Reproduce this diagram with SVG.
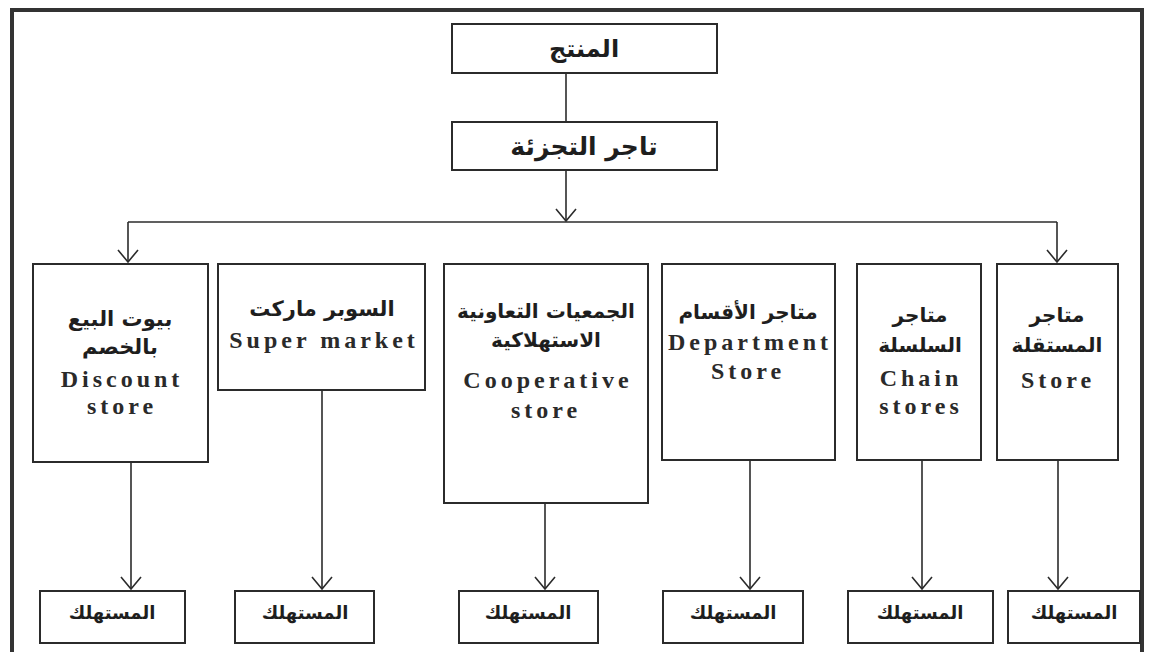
<svg xmlns="http://www.w3.org/2000/svg" width="1149" height="652" viewBox="0 0 1149 652">
  <style>
    .box { fill: #ffffff; stroke: #2b2b2b; stroke-width: 2; }
    .wire { fill: none; stroke: #2b2b2b; stroke-width: 1.6; }
    .ar { font-family: "DejaVu Sans", "Noto Sans", sans-serif; font-weight: bold; fill: #1e1e1e; text-anchor: middle; direction: rtl; }
    .en { font-family: "Liberation Serif", "Times New Roman", serif; font-weight: bold; fill: #2a2a2a; text-anchor: middle; font-size: 24px; letter-spacing: 4px; }
  </style>
  <defs>
    <!-- open V arrowhead, drawn along +x so orient="auto" turns it with the line -->
    <marker id="vee" viewBox="0 0 14 24" refX="13" refY="12" markerWidth="14" markerHeight="24" markerUnits="userSpaceOnUse" orient="auto">
      <path d="M1,2 L13,12 L1,22" fill="none" stroke="#2b2b2b" stroke-width="1.6"/>
    </marker>
  </defs>

  <rect x="0" y="0" width="1149" height="652" fill="#ffffff"/>
  <!-- outer frame -->
  <path d="M12,662 V10 H1142 V662" fill="none" stroke="#333" stroke-width="4"/>

  <g id="connectors">
    <line class="wire" x1="566" y1="73" x2="566" y2="122"/>
    <path class="wire" d="M566,171 V221" marker-end="url(#vee)"/>
    <line class="wire" x1="128" y1="222" x2="1057" y2="222"/>
    <path class="wire" d="M128,222 V262" marker-end="url(#vee)"/>
    <path class="wire" d="M1057,222 V262" marker-end="url(#vee)"/>
    <path class="wire" d="M131,462 V589" marker-end="url(#vee)"/>
    <path class="wire" d="M322,390 V589" marker-end="url(#vee)"/>
    <path class="wire" d="M545,503 V589" marker-end="url(#vee)"/>
    <path class="wire" d="M750,460 V589" marker-end="url(#vee)"/>
    <path class="wire" d="M922,460 V589" marker-end="url(#vee)"/>
    <path class="wire" d="M1058,460 V589" marker-end="url(#vee)"/>
  </g>

  <g id="producer">
    <rect class="box" x="452" y="24" width="265" height="49"/>
    <text class="ar" x="584" y="57" font-size="24">المنتج</text>
  </g>

  <g id="retailer">
    <rect class="box" x="452" y="122" width="265" height="48"/>
    <text class="ar" x="584" y="155" font-size="25">تاجر التجزئة</text>
  </g>

  <g id="discount-store">
    <rect class="box" x="33" y="264" width="175" height="198"/>
    <text class="ar" x="120" y="326" font-size="21">بيوت البيع</text>
    <text class="ar" x="120" y="354" font-size="21">بالخصم</text>
    <text class="en" x="122" y="387">Discount</text>
    <text class="en" x="122" y="414">store</text>
  </g>

  <g id="super-market">
    <rect class="box" x="218" y="264" width="207" height="126"/>
    <text class="ar" x="322" y="316" font-size="21">السوبر ماركت</text>
    <text class="en" x="324" y="348">Super market</text>
  </g>

  <g id="cooperative-store">
    <rect class="box" x="444" y="264" width="204" height="239"/>
    <text class="ar" x="546" y="318" font-size="20">الجمعيات التعاونية</text>
    <text class="ar" x="546" y="347" font-size="20">الاستهلاكية</text>
    <text class="en" x="548" y="388">Cooperative</text>
    <text class="en" x="546" y="418">store</text>
  </g>

  <g id="department-store">
    <rect class="box" x="662" y="264" width="173" height="196"/>
    <text class="ar" x="748" y="319" font-size="20">متاجر الأقسام</text>
    <text class="en" x="750" y="350">Department</text>
    <text class="en" x="748" y="379">Store</text>
  </g>

  <g id="chain-stores">
    <rect class="box" x="857" y="264" width="124" height="196"/>
    <text class="ar" x="920" y="322" font-size="20">متاجر</text>
    <text class="ar" x="920" y="352" font-size="20">السلسلة</text>
    <text class="en" x="921" y="386">Chain</text>
    <text class="en" x="921" y="414">stores</text>
  </g>

  <g id="independent-store">
    <rect class="box" x="997" y="264" width="121" height="196"/>
    <text class="ar" x="1057" y="322" font-size="20">متاجر</text>
    <text class="ar" x="1057" y="352" font-size="20">المستقلة</text>
    <text class="en" x="1058" y="388">Store</text>
  </g>

  <g id="consumer-1">
    <rect class="box" x="40" y="591" width="145" height="52"/>
    <text class="ar" x="112" y="619" font-size="18">المستهلك</text>
  </g>
  <g id="consumer-2">
    <rect class="box" x="235" y="591" width="139" height="52"/>
    <text class="ar" x="305" y="619" font-size="18">المستهلك</text>
  </g>
  <g id="consumer-3">
    <rect class="box" x="459" y="591" width="139" height="52"/>
    <text class="ar" x="528" y="619" font-size="18">المستهلك</text>
  </g>
  <g id="consumer-4">
    <rect class="box" x="663" y="591" width="140" height="52"/>
    <text class="ar" x="733" y="619" font-size="18">المستهلك</text>
  </g>
  <g id="consumer-5">
    <rect class="box" x="848" y="591" width="145" height="52"/>
    <text class="ar" x="920" y="619" font-size="18">المستهلك</text>
  </g>
  <g id="consumer-6">
    <rect class="box" x="1008" y="591" width="132" height="52"/>
    <text class="ar" x="1074" y="619" font-size="18">المستهلك</text>
  </g>
</svg>
